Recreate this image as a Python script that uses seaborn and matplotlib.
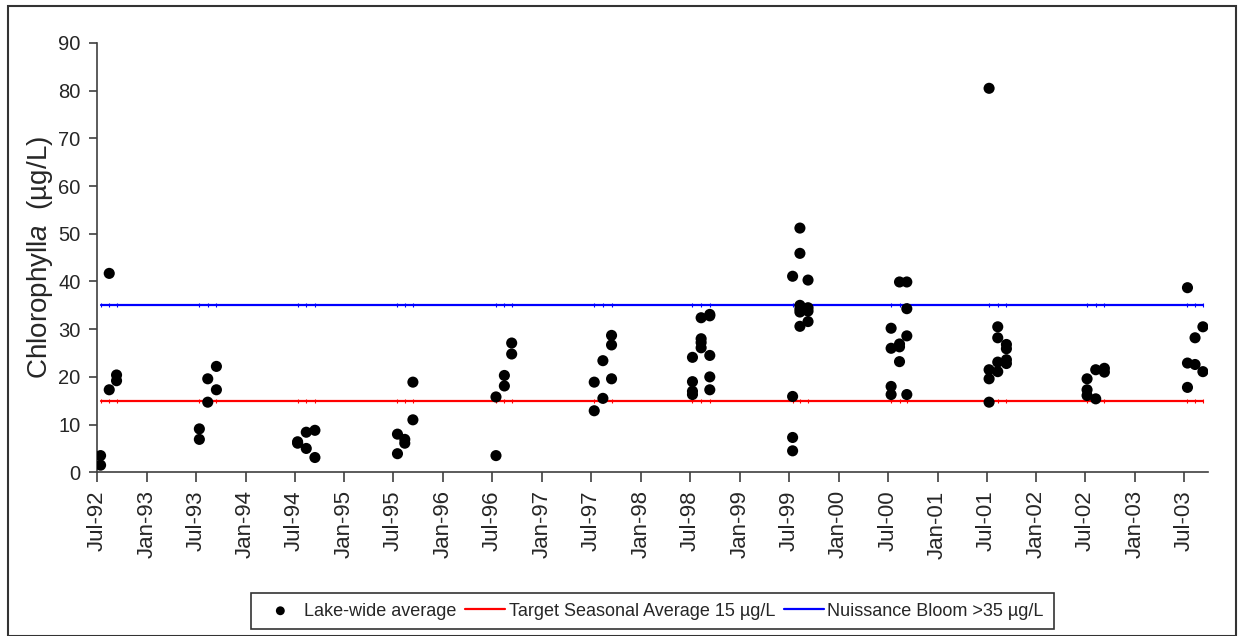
import pandas as pd
import seaborn as sns
import matplotlib
matplotlib.use('Agg')
from matplotlib import pyplot as plt
from matplotlib.patches import Rectangle
import matplotlib.dates as mdates

sns.set_style('white')
plt.rcParams['font.family'] = ['Liberation Sans', 'DejaVu Sans']
plt.rcParams['mathtext.fontset'] = 'custom'
plt.rcParams['mathtext.rm'] = 'Liberation Sans'
plt.rcParams['mathtext.it'] = 'Liberation Sans:italic'

# sampling dates (Jul / Aug / Sep each season) and lake-wide chlorophyll a values
survey_dates = [
    '1992-07-14', '1992-08-15', '1992-09-11',
    '1993-07-14', '1993-08-14', '1993-09-15',
    '1994-07-12', '1994-08-13', '1994-09-14',
    '1995-07-16', '1995-08-12', '1995-09-11',
    '1996-07-14', '1996-08-14', '1996-09-10',
    '1997-07-12', '1997-08-13', '1997-09-14',
    '1998-07-10', '1998-08-11', '1998-09-12',
    '1999-07-15', '1999-08-11', '1999-09-10',
    '2000-07-13', '2000-08-13', '2000-09-09',
    '2001-07-10', '2001-08-11', '2001-09-12',
    '2002-07-07', '2002-08-08', '2002-09-09',
    '2003-07-13', '2003-08-10', '2003-09-08',
]
chl_by_date = [
    [3.5, 1.5], [17.3, 41.7], [20.4, 19.2],
    [9.1, 6.9], [19.6, 14.7], [22.2, 17.3],
    [6.4, 6.1], [8.4, 5.0], [8.8, 3.1],
    [8.0, 3.9], [6.9, 6.1], [18.9, 11.0],
    [15.8, 3.5], [20.3, 18.1], [27.1, 24.8],
    [18.9, 12.9], [23.4, 15.5], [28.7, 26.7, 19.6],
    [24.1, 19.0, 17.0, 16.3], [32.4, 28.0, 27.2, 26.1], [33.1, 32.8, 24.5, 20.0, 17.3],
    [41.1, 15.9, 7.3, 4.5], [51.2, 45.9, 35.0, 34.2, 33.6, 30.6], [40.3, 34.5, 33.8, 31.6],
    [30.2, 26.0, 18.0, 16.3], [39.9, 26.9, 26.3, 23.2], [39.9, 34.3, 28.6, 16.3],
    [80.5, 21.5, 19.6, 14.7], [30.5, 28.2, 23.1, 21.1], [26.8, 25.9, 23.6, 22.8],
    [19.6, 17.3, 16.1], [21.5, 15.4], [21.8, 21.0],
    [38.7, 22.9, 17.8], [28.2, 22.6], [30.5, 21.1],
]
target_level = 15
bloom_level = 35

rows = []
for d, vals in zip(survey_dates, chl_by_date):
    for v in vals:
        rows.append({'date': pd.Timestamp(d), 'chl': v})
df = pd.DataFrame(rows)

lines = pd.DataFrame({
    'date': pd.to_datetime(survey_dates),
    'target': [target_level] * len(survey_dates),
    'bloom': [bloom_level] * len(survey_dates),
})

fig = plt.figure(figsize=(12.38, 6.36), dpi=100)
ax = fig.add_axes([0.0784, 0.2574, 0.8974, 0.675])

sns.lineplot(data=lines, x='date', y='target', ax=ax, color='#ff0000', lw=1.6,
             marker='|', markersize=3, markeredgewidth=0.8, markeredgecolor='#ff0000',
             label='Target Seasonal Average 15 µg/L', zorder=2)
sns.lineplot(data=lines, x='date', y='bloom', ax=ax, color='#0000ff', lw=1.6,
             marker='|', markersize=3, markeredgewidth=0.8, markeredgecolor='#0000ff',
             label='Nuissance Bloom >35 µg/L', zorder=2)
sns.scatterplot(data=df, x='date', y='chl', ax=ax, color='black', s=64,
                edgecolor='none', label='Lake-wide average', zorder=3)

ax.set_xlim(pd.Timestamp('1992-07-01'), pd.Timestamp('2003-09-27'))
ax.set_ylim(0, 90)
ax.set_yticks(range(0, 91, 10))
ax.xaxis.set_major_locator(mdates.MonthLocator(bymonth=[1, 7]))
ax.xaxis.set_major_formatter(mdates.DateFormatter('%b-%y'))
ax.tick_params(axis='x', labelsize=16, rotation=90, direction='out', length=7,
               width=1.2, color='#404040', pad=6, bottom=True)
ax.tick_params(axis='y', labelsize=14.5, direction='out', length=6,
               width=1.2, color='#404040', pad=6, left=True)

ax.set_xlabel('')
ax.set_ylabel('Chlorophyll$\\it{a}$  (µg/L)', fontsize=20)
ax.yaxis.set_label_coords(-0.038, 0.5)

for s in ['top', 'right']:
    ax.spines[s].set_visible(False)
for s in ['left', 'bottom']:
    ax.spines[s].set_color('#404040')
    ax.spines[s].set_linewidth(1.2)

h, l = ax.get_legend_handles_labels()
order = [2, 0, 1]
leg = ax.legend([h[i] for i in order], [l[i] for i in order],
                loc='center', bbox_to_anchor=(0.5267, 0.0393),
                bbox_transform=fig.transFigure, ncol=3, fontsize=13,
                frameon=True, fancybox=False, edgecolor='black',
                handlelength=2.2, handletextpad=0.2, columnspacing=0.5,
                borderpad=0.55, markerscale=0.8)
leg.get_frame().set_linewidth(1.2)
for lh in leg.get_lines():
    lh.set_marker('')

fig.patches.append(Rectangle((8 / 1238, 0.5 / 636), 1228 / 1238, 629.5 / 636,
                             transform=fig.transFigure, fill=False,
                             edgecolor='#333333', lw=1.5))

fig.savefig('out.png', dpi=100)
